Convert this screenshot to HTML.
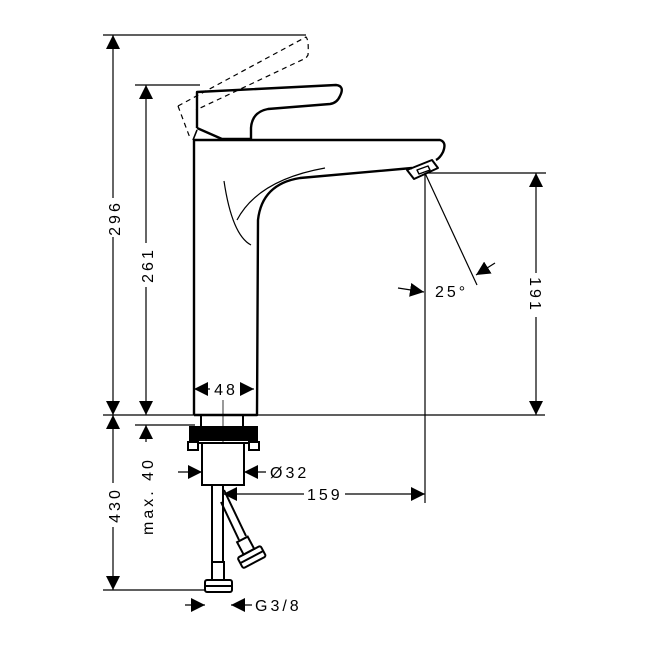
<!DOCTYPE html>
<html><head><style>
html,body{margin:0;padding:0;background:#fff}
svg{display:block}
text{font-family:"Liberation Sans",sans-serif;font-size:16px;letter-spacing:3px;fill:#000}
</style></head><body>
<svg width="650" height="650" viewBox="0 0 650 650" xmlns="http://www.w3.org/2000/svg">
<defs>
<marker id="a" viewBox="0 0 10 10" refX="10" refY="5" markerWidth="14" markerHeight="14" markerUnits="userSpaceOnUse" orient="auto"><path d="M0,0 L10,5 L0,10 Z" fill="#000"/></marker>
</defs>
<g stroke="#000" fill="none" stroke-width="1.2">
<line x1="103" y1="35" x2="306" y2="35"/>
<line x1="135" y1="85" x2="200" y2="85"/>
<line x1="103" y1="415" x2="545" y2="415"/>
<line x1="135" y1="425" x2="195" y2="425"/>
<line x1="428" y1="173" x2="546" y2="173"/>
<line x1="103" y1="590" x2="205" y2="590"/>
<line x1="425" y1="173" x2="425" y2="503"/>
<line x1="223" y1="400" x2="223" y2="486" stroke-width="0.8"/>
<line x1="425" y1="173" x2="477" y2="285"/>
<line x1="113" y1="198" x2="113" y2="35" marker-end="url(#a)"/>
<line x1="113" y1="237" x2="113" y2="415" marker-end="url(#a)"/>
<line x1="146" y1="243" x2="146" y2="85" marker-end="url(#a)"/>
<line x1="146" y1="287" x2="146" y2="415" marker-end="url(#a)"/>
<line x1="536" y1="273" x2="536" y2="173" marker-end="url(#a)"/>
<line x1="536" y1="317" x2="536" y2="415" marker-end="url(#a)"/>
<line x1="113" y1="483" x2="113" y2="415" marker-end="url(#a)"/>
<line x1="113" y1="527" x2="113" y2="590" marker-end="url(#a)"/>
<line x1="146" y1="442" x2="146" y2="425" marker-end="url(#a)"/>
<line x1="210" y1="389" x2="194" y2="389" marker-end="url(#a)"/>
<line x1="240" y1="389" x2="254" y2="389" marker-end="url(#a)"/>
<line x1="178" y1="472" x2="202" y2="472" marker-end="url(#a)"/>
<line x1="266" y1="472" x2="244" y2="472" marker-end="url(#a)"/>
<line x1="304" y1="494" x2="223" y2="494" marker-end="url(#a)"/>
<line x1="345" y1="494" x2="425" y2="494" marker-end="url(#a)"/>
<line x1="185" y1="605" x2="205" y2="605" marker-end="url(#a)"/>
<line x1="252" y1="605" x2="231" y2="605" marker-end="url(#a)"/>
<line x1="398" y1="288" x2="424" y2="292" marker-end="url(#a)"/>
<line x1="495" y1="263" x2="476" y2="275" marker-end="url(#a)"/>
</g>
<g stroke="#000" fill="none" stroke-width="2.4" stroke-linejoin="round">
<path d="M194,415 L194,140 L440,140 Q447,142 443,152 Q440,158 436,160"/>
<path d="M412,168 L300,178 Q262,184 258,220 L257,415 L194,415"/>
<path d="M197,128 L197,92 L336,85 Q345,86 340,96 Q337,103 330,104 L268,109 Q252,112 251,128 L251,139 L222,139 L197,128"/>
<path d="M407,170 L432,160 L438,168 L414,179 Z" stroke-width="2"/>
<path d="M417,170 L428,166 L430,170 L419,174 Z" stroke-width="1.4"/>
<path d="M197,130 L193,140" stroke-width="1.6"/>
</g>
<g stroke="#000" fill="none" stroke-width="1.2">
<path d="M224,181 Q232,235 251,245"/>
<path d="M237,220 Q258,180 325,168"/>
<path d="M178,106 L306,37 Q309,40 308,55 L306,58 L196,110" stroke-dasharray="5,4"/>
<path d="M178,106 L190,138" stroke-dasharray="5,4"/>
</g>
<g stroke="#000" stroke-width="2" fill="none">
<rect x="201" y="415" width="42" height="12"/>
<rect x="190" y="427" width="67" height="13" fill="#000"/>
<rect x="188" y="442" width="10" height="8"/>
<rect x="249" y="442" width="10" height="8"/>
<line x1="198" y1="443" x2="249" y2="443"/>
<rect x="202" y="443" width="42" height="42" fill="#fff"/>
<rect x="212" y="485" width="11" height="77"/>
<rect x="212" y="562" width="12" height="18"/>
<rect x="205" y="580" width="27" height="12" rx="2"/>
<line x1="205" y1="586" x2="232" y2="586"/>
<line x1="221" y1="502" x2="239" y2="540"/>
<line x1="224" y1="490" x2="246" y2="536"/>
<g transform="translate(248,550) rotate(-28)">
<rect x="-6" y="-12" width="12" height="14"/>
<rect x="-13" y="2" width="26" height="12" rx="2"/>
<line x1="-13" y1="8" x2="13" y2="8"/>
</g>
</g>
<text transform="translate(120,218) rotate(-90)" text-anchor="middle">296</text>
<text transform="translate(153,265) rotate(-90)" text-anchor="middle">261</text>
<text transform="translate(530,295) rotate(90)" text-anchor="middle">191</text>
<text transform="translate(120,505) rotate(-90)" text-anchor="middle">430</text>
<text transform="translate(153,496) rotate(-90)" text-anchor="middle">max. 40</text>
<text x="226" y="395" text-anchor="middle">48</text>
<text x="270" y="478">Ø32</text>
<text x="307" y="500">159</text>
<text x="255" y="611">G3/8</text>
<text x="435" y="297">25°</text>
</svg>
</body></html>
